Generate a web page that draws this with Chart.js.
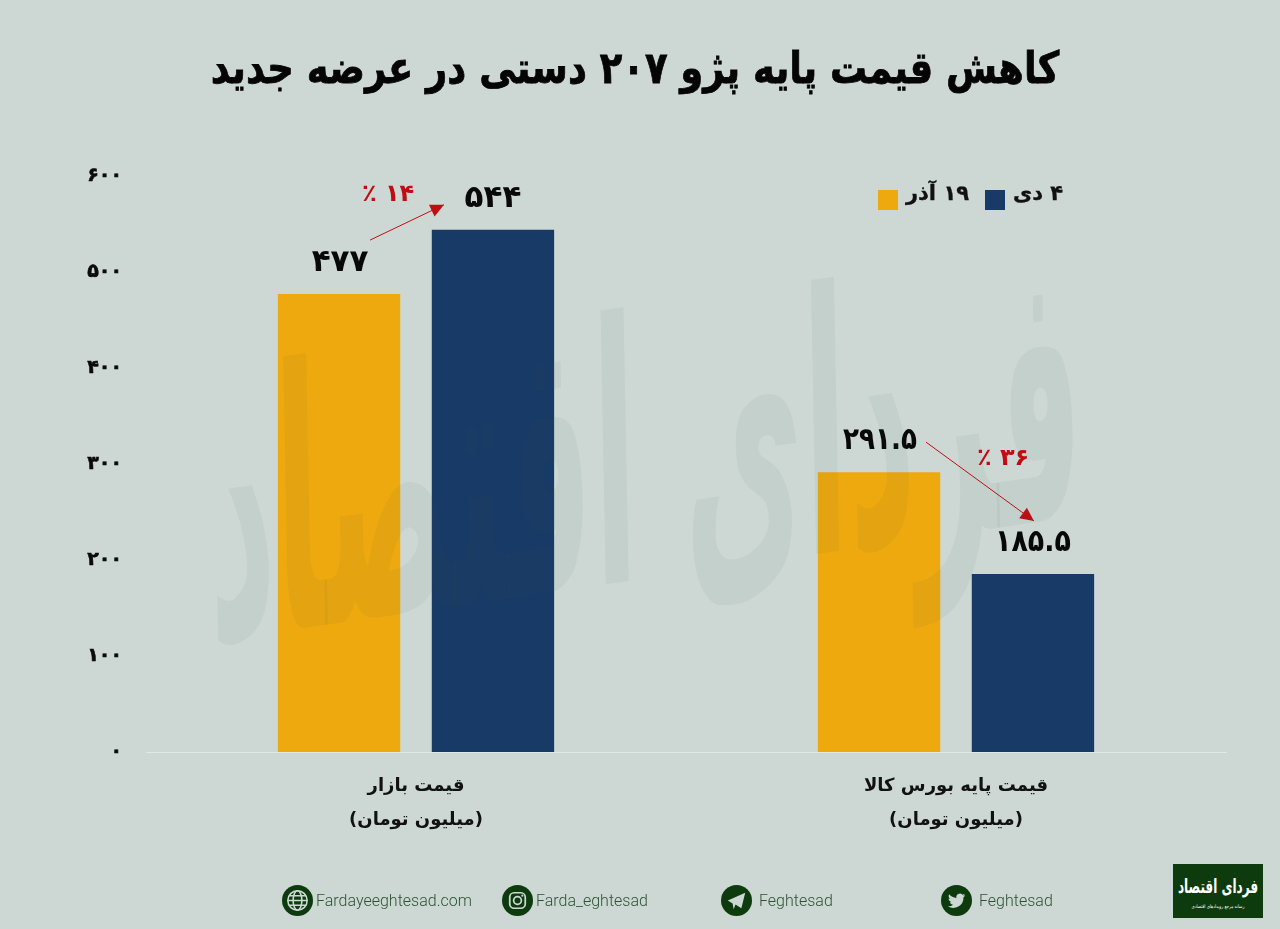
<!DOCTYPE html>
<html lang="fa">
<head>
<meta charset="utf-8">
<title>کاهش قیمت پایه پژو ۲۰۷</title>
<script src="https://cdn.jsdelivr.net/npm/chart.js@4"></script>
<style>
  html, body { margin: 0; padding: 0; background: #cdd8d5; }
  #page { position: relative; width: 1280px; height: 929px; overflow: hidden; background: #cdd8d5; font-family: "DejaVu Sans", sans-serif; }
  #chart { position: absolute; left: 0; top: 0; }
  .abs { position: absolute; white-space: nowrap; }
  #title { left: 0; width: 1270px; top: 42px; text-align: center; font-size: 44px; font-weight: bold; color: #050505; transform: scaleX(0.84); -webkit-text-stroke: 0.8px #050505; }
  .swatch { position: absolute; width: 20px; height: 20px; top: 190px; }
  .legendText { top: 181px; font-size: 21px; font-weight: bold; color: #111; direction: rtl; -webkit-text-stroke: 0.3px #111; }
  #watermark { left: -5px; top: 345px; width: 1300px; text-align: center; font-size: 190px; line-height: 220px; font-weight: bold; color: rgba(70, 90, 70, 0.06); transform: scale(0.69, 1.9) rotate(-3deg); direction: rtl; }
  .social { position: absolute; top: 885px; height: 30px; display: flex; align-items: center; gap: 3px; color: #2d5233; font: 300 16px Roboto, sans-serif; }
  .social svg { width: 31px; height: 31px; }
  #logo { position: absolute; left: 1173px; top: 864px; width: 90px; height: 54px; background: #0d3b0e; color: #fff; text-align: center; direction: rtl; overflow: hidden; white-space: nowrap; }
  #logo b { display: block; font-size: 12px; margin-top: 11px; line-height: 24px; transform: scaleY(1.6); }
  #logo span { display: block; font-size: 5px; line-height: 8px; margin-top: 3px; transform: scaleX(0.8); }
</style>
</head>
<body>
<div id="page">
  <canvas id="chart" width="1280" height="929" dir="rtl"></canvas>
  <div id="title" class="abs" dir="rtl">کاهش قیمت پایه پژو ۲۰۷ دستی در عرضه جدید</div>
  <div class="swatch" style="left:878px;background:#eea90f"></div>
  <div class="abs legendText" style="left:906px">۱۹ آذر</div>
  <div class="swatch" style="left:985px;background:#183a66"></div>
  <div class="abs legendText" style="left:1013px">۴ دی</div>
  <div id="watermark" class="abs">فردای اقتصاد</div>

  <div class="social" style="left:282px">
    <svg viewBox="0 0 32 32"><circle cx="16" cy="16" r="16" fill="#0d3b0e"/><g fill="none" stroke="#cdd8d5" stroke-width="1.6"><circle cx="16" cy="16" r="10"/><ellipse cx="16" cy="16" rx="4.5" ry="10"/><path d="M6 16h20M7.500 11h17M7.500 21h17"/></g></svg>
    <span>Fardayeeghtesad.com</span>
  </div>
  <div class="social" style="left:502px">
    <svg viewBox="0 0 32 32"><circle cx="16" cy="16" r="16" fill="#0d3b0e"/><g fill="none" stroke="#cdd8d5" stroke-width="1.8"><rect x="8" y="8" width="16" height="16" rx="4.5"/><circle cx="16" cy="16" r="4"/></g><circle cx="21" cy="11" r="1.1" fill="#cdd8d5"/></svg>
    <span>Farda_eghtesad</span>
  </div>
  <div class="social" style="left:721px;gap:7px">
    <svg viewBox="0 0 32 32"><circle cx="16" cy="16" r="16" fill="#0d3b0e"/><path d="M7 16 L25 8 L21 24 L15 20 L13 25 L12 19 Z" fill="#cdd8d5"/></svg>
    <span>Feghtesad</span>
  </div>
  <div class="social" style="left:941px;gap:7px">
    <svg viewBox="0 0 32 32"><circle cx="16" cy="16" r="16" fill="#0d3b0e"/><path d="M25 10.500c-.7.3-1.400.5-2.100.6.800-.5 1.300-1.200 1.600-2-.7.4-1.500.7-2.300.9a3.700 3.700 0 0 0-6.300 3.400c-3-.2-5.700-1.600-7.500-3.800-1 1.700-.5 3.800 1.100 4.900-.6 0-1.200-.2-1.700-.5 0 1.800 1.300 3.300 3 3.700-.5.100-1.100.2-1.700.1.500 1.500 1.900 2.500 3.500 2.600A7.500 7.500 0 0 1 7 22a10.500 10.500 0 0 0 16.200-9.300c.7-.5 1.300-1.200 1.800-2.200z" fill="#cdd8d5"/></svg>
    <span>Feghtesad</span>
  </div>
  <div id="logo"><b>فردای اقتصاد</b><span>رسانه مرجع رویدادهای اقتصادی</span></div>
</div>

<script>
  const categories = [
    ["قیمت بازار", "(میلیون تومان)"],
    ["قیمت پایه بورس کالا", "(میلیون تومان)"],
  ];
  const seriesNames = ["۱۹ آذر", "۴ دی"];
  const azarValues = [477, 291.5];
  const deyValues = [544, 185.5];
  const azarLabels = ["۴۷۷", "۲۹۱.۵"];
  const deyLabels = ["۵۴۴", "۱۸۵.۵"];
  const changeLabels = ["۱۴ ٪", "۳۶ ٪"];
  const tickLabels = ["۰", "۱۰۰", "۲۰۰", "۳۰۰", "۴۰۰", "۵۰۰", "۶۰۰"];

  const red = "#c00d12";

  // Подписи над столбцами и стрелки изменения
  const drawArrow = (ctx, x1, y1, x2, y2) => {
    const angle = Math.atan2(y2 - y1, x2 - x1);
    ctx.strokeStyle = red;
    ctx.fillStyle = red;
    ctx.lineWidth = 1;
    ctx.beginPath();
    ctx.moveTo(x1, y1);
    ctx.lineTo(x2, y2);
    ctx.stroke();
    ctx.beginPath();
    ctx.moveTo(x2, y2);
    ctx.lineTo(x2 - 15 * Math.cos(angle - 0.45), y2 - 15 * Math.sin(angle - 0.45));
    ctx.lineTo(x2 - 15 * Math.cos(angle + 0.45), y2 - 15 * Math.sin(angle + 0.45));
    ctx.closePath();
    ctx.fill();
  };

  const barNotes = {
    id: "barNotes",
    afterDatasetsDraw(chart) {
      const { ctx } = chart;
      const azar = chart.getDatasetMeta(0).data;
      const dey = chart.getDatasetMeta(1).data;
      ctx.save();
      ctx.textAlign = "center";
      ctx.textBaseline = "middle";
      ctx.font = "bold 31px 'DejaVu Sans'";
      ctx.fillStyle = "#080808";
      azar.forEach((bar, i) => ctx.fillText(azarLabels[i], bar.x + 1, bar.y - 31, 74));
      dey.forEach((bar, i) => ctx.fillText(deyLabels[i], bar.x, bar.y - 31, 76));

      ctx.font = "bold 24px 'DejaVu Sans'";
      ctx.fillStyle = red;
      ctx.fillText(changeLabels[0], azar[0].x + 49, dey[0].y - 35);
      ctx.fillText(changeLabels[1], azar[1].x + 124, azar[1].y - 13);

      drawArrow(ctx, azar[0].x + 31, azar[0].y - 54, dey[0].x - 49, dey[0].y - 25);
      drawArrow(ctx, azar[1].x + 47, azar[1].y - 30, dey[1].x + 1, dey[1].y - 53);
      ctx.restore();
    },
  };

  new Chart(document.getElementById("chart").getContext("2d"), {
    type: "bar",
    data: {
      labels: categories,
      datasets: [
        { label: seriesNames[0], data: azarValues, backgroundColor: "#eea90f" },
        { label: seriesNames[1], data: deyValues, backgroundColor: "#183a66" },
      ],
    },
    options: {
      responsive: false,
      animation: false,
      categoryPercentage: 0.57,
      barPercentage: 0.795,
      layout: { padding: { top: 176, right: 54 } },
      plugins: { legend: { display: false }, tooltip: { enabled: false } },
      scales: {
        x: {
          afterFit: (scale) => { scale.height = 177; },
          grid: { display: false },
          border: { color: "#e2e8e7", width: 1 },
          ticks: {
            color: "#111",
            padding: 10,
            font: { family: "DejaVu Sans", size: 18, weight: "bold", lineHeight: 1.85 },
            maxRotation: 0,
          },
        },
        y: {
          min: 0,
          max: 600,
          afterFit: (scale) => { scale.width = 146; },
          grid: { display: false },
          border: { display: false },
          ticks: {
            stepSize: 100,
            color: "#0a0a0a",
            padding: 16,
            textStrokeColor: "#0a0a0a",
            textStrokeWidth: 0.6,
            font: { family: "DejaVu Sans", size: 19, weight: "bold" },
            callback: (value) => tickLabels[value / 100],
          },
        },
      },
    },
    plugins: [barNotes],
  });
</script>
</body>
</html>
